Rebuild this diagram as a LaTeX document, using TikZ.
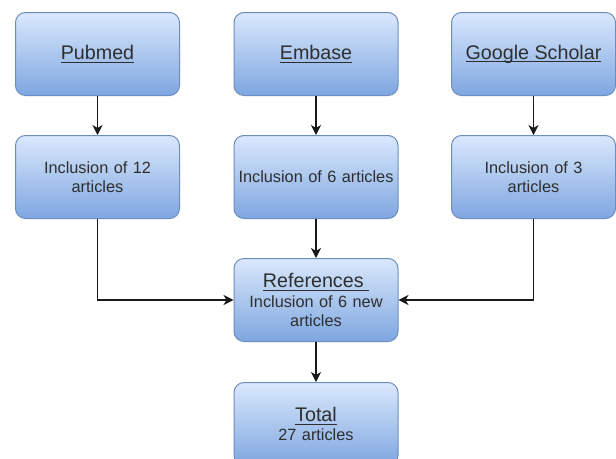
\documentclass[tikz,border=0pt]{standalone}
\usepackage{fontspec}
\setmainfont{Liberation Sans}
\usetikzlibrary{arrows.meta}
\definecolor{boxtop}{HTML}{DAE8FC}
\definecolor{boxbot}{HTML}{7EA6E0}
\definecolor{boxline}{HTML}{6C8EBF}
\definecolor{txt}{HTML}{2E2E2E}
\tikzset{
  flowbox/.style={draw=boxline, line width=1pt, rounded corners=10pt,
    top color=boxtop, bottom color=boxbot, minimum width=164pt, minimum height=83pt,
    text width=164pt, align=center, inner sep=0pt, anchor=north west,
    text=txt, font=\fontsize{16.3}{19.5}\selectfont},
  conn/.style={line width=1.3pt, black!90, -{Stealth[length=10pt,width=10pt,inset=3pt]}}
}
\newcommand{\ttltext}[1]{{\fontsize{19.7}{22}\selectfont\setbox0\hbox{#1}\rlap{\copy0}\rule[-3.4pt]{\wd0}{1pt}}}
\begin{document}
\begin{tikzpicture}[x=1pt,y=-1pt]
\useasboundingbox (0,0) rectangle (616,458);
\clip (0,0) rectangle (616,458);
\fill[white] (0,0) rectangle (616,458);
\node[flowbox] (pub) at (15,12) {\ttltext{Pubmed}};
\node[flowbox] (emb) at (233.5,12) {\ttltext{Embase}};
\node[flowbox] (gs) at (451,12) {\ttltext{Google Scholar}};
\node[flowbox] (pubi) at (15,135) {Inclusion of 12\\articles};
\node[flowbox] (embi) at (233.5,135) {Inclusion of 6 articles};
\node[flowbox] (gsi) at (451,135) {Inclusion of 3\\articles};
\node[flowbox] (ref) at (233.5,258) {\ttltext{References\ }\\[0pt]Inclusion of 6 new\\articles};
\node[flowbox] (tot) at (233.5,382) {\ttltext{Total}\\[-1pt]27 articles};
\draw[conn] (pub) -- (pubi);
\draw[conn] (emb) -- (embi);
\draw[conn] (gs) -- (gsi);
\draw[conn] (embi) -- (ref);
\draw[conn] (ref) -- (tot);
\draw[conn] (pubi.south) |- (ref.west);
\draw[conn] (gsi.south) |- (ref.east);
\end{tikzpicture}
\end{document}
